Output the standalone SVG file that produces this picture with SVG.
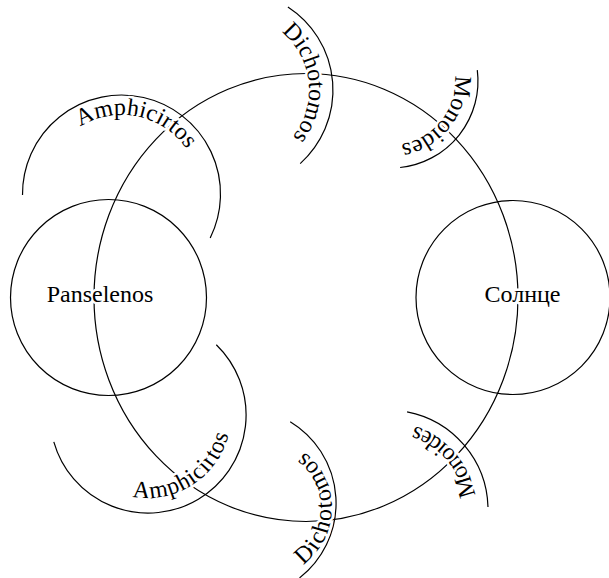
<svg xmlns="http://www.w3.org/2000/svg" xmlns:xlink="http://www.w3.org/1999/xlink" width="609" height="578" viewBox="0 0 609 578">
<style>
.ln{fill:none;stroke:#000;stroke-width:1.2}
.tx{font-family:"Liberation Serif","Times New Roman",serif;font-size:24px;fill:#000;stroke:#fff;stroke-width:5;stroke-linejoin:round;paint-order:stroke}
</style>
<defs>
<path id="pA1" d="M51.1,158.1 A79,79 0 0 1 200.4,189.9"/>
<path id="pA2" d="M92.5,476.7 A83,83 0 0 0 226.9,389.4"/>
<path id="pD1" d="M245.7,15.9 A75,75 0 0 1 260.9,160"/>
<path id="pD2" d="M274.2,576.9 A70,70 0 0 0 274.2,439.1"/>
<path id="pM1" d="M438.6,38.2 A64,64 0 0 1 361,137.5"/>
<path id="pM2" d="M461,559.2 A88,88 0 0 0 349.4,430.9"/>
</defs>
<rect width="609" height="578" fill="#fff"/>
<g id="connectors">
<ellipse class="ln" cx="306" cy="297.5" rx="212" ry="224"/>
</g>
<g id="panselenos">
<circle class="ln" cx="108.5" cy="297.5" r="98"/>
<text class="tx" x="100" y="302" text-anchor="middle">Panselenos</text>
</g>
<g id="solntse">
<circle class="ln" cx="513" cy="297.5" r="97"/>
<text class="tx" x="522.5" y="302" text-anchor="middle">Солнце</text>
</g>
<g id="amphicirtos-upper">
<path class="ln" d="M22.5,195 A99,99 0 1 1 210.2,238"/>
<text class="tx" text-anchor="middle"><textPath xlink:href="#pA1" href="#pA1" startOffset="50%">Amphicirtos</textPath></text>
</g>
<g id="amphicirtos-lower">
<path class="ln" d="M216.3,344.7 A98,98 0 1 1 53.8,441.8"/>
<text class="tx" text-anchor="middle" letter-spacing="0.6"><textPath xlink:href="#pA2" href="#pA2" startOffset="50%">Amphicirtos</textPath></text>
</g>
<g id="dichotomos-upper">
<path class="ln" d="M287.9,7 A99,99 0 0 1 300.2,163.6"/>
<text class="tx" text-anchor="middle"><textPath xlink:href="#pD1" href="#pD1" startOffset="50%">Dichotomos</textPath></text>
</g>
<g id="dichotomos-lower">
<path class="ln" d="M290.2,421.7 A95,95 0 0 1 299.5,577.9"/>
<text class="tx" text-anchor="middle" letter-spacing="1.5"><textPath xlink:href="#pD2" href="#pD2" startOffset="50%">Dichotomos</textPath></text>
</g>
<g id="monoides-upper">
<path class="ln" d="M477.3,70.1 A87,87 0 0 1 400.1,167.5"/>
<text class="tx" text-anchor="middle"><textPath xlink:href="#pM1" href="#pM1" startOffset="50%">Monoides</textPath></text>
</g>
<g id="monoides-lower">
<path class="ln" d="M407.1,411.8 A100,100 0 0 1 488,507"/>
<text class="tx" text-anchor="middle"><textPath xlink:href="#pM2" href="#pM2" startOffset="50%">Monoides</textPath></text>
</g>
</svg>
